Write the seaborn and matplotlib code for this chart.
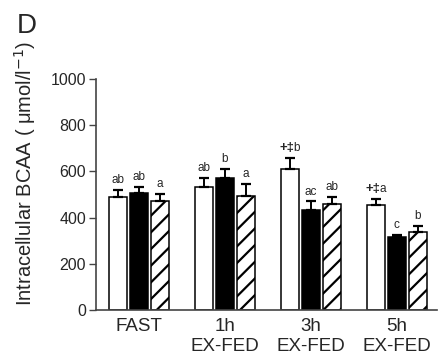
import matplotlib
matplotlib.use("Agg")
import matplotlib.pyplot as plt
import seaborn as sns
import numpy as np
import pandas as pd

# Group means and upper SEM for intracellular BCAA
conditions = ["FAST", "1h\nEX-FED", "3h\nEX-FED", "5h\nEX-FED"]
groups = ["G1", "G2", "G3"]
means_g1 = [490, 532, 609, 453]
means_g2 = [505, 570, 434, 316]
means_g3 = [473, 495, 460, 336]
sem_g1 = [29, 41, 50, 29]
sem_g2 = [29, 40, 36, 10]
sem_g3 = [29, 52, 29, 29]
sig_prefix_g1 = ["", "", "+‡", "+‡"]
letters_g1 = ["ab", "ab", "b", "a"]
letters_g2 = ["ab", "b", "ac", "c"]
letters_g3 = ["a", "a", "ab", "b"]

sns.set_theme(style="white")
plt.rcParams["font.family"] = ["Liberation Sans", "DejaVu Sans"]
plt.rcParams["hatch.linewidth"] = 1.6
plt.rcParams["hatch.color"] = "black"

df = pd.DataFrame({
    "condition": conditions * 3,
    "group": [g for g in groups for _ in conditions],
    "value": means_g1 + means_g2 + means_g3,
})

fig = plt.figure(figsize=(4.38, 3.62), dpi=100)
ax = fig.add_axes([0.219, 0.1436, 0.779, 0.6382])

sns.barplot(data=df, x="condition", y="value", hue="group",
            hue_order=groups, order=conditions,
            palette=["white", "black", "white"],
            width=0.73, gap=0.14, edgecolor="black", linewidth=1.1,
            errorbar=None, legend=False, ax=ax)

means = [means_g1, means_g2, means_g3]
sems = [sem_g1, sem_g2, sem_g3]
letters = [letters_g1, letters_g2, letters_g3]

# bars come in hue order, each hue across all conditions
patches = ax.patches
n = len(conditions)
for gi in range(3):
    for ci in range(n):
        p = patches[gi * n + ci]
        xc = p.get_x() + p.get_width() / 2
        if gi == 2:
            p.set_hatch("//")
        m = means[gi][ci]
        e = sems[gi][ci]
        ax.errorbar(xc, m, yerr=[[0], [e]], fmt="none", ecolor="black",
                    elinewidth=1.4, capsize=3.3, capthick=1.6, zorder=3)
        ytop = m + e + 16
        pre = sig_prefix_g1[ci] if gi == 0 else ""
        if pre:
            ax.annotate(pre, (xc, ytop), xytext=(3.5, 0), textcoords="offset points",
                        ha="right", va="bottom", fontsize=9.5, fontweight="bold")
            ax.annotate(letters[gi][ci], (xc, ytop), xytext=(2.8, 0),
                        textcoords="offset points", ha="left", va="bottom",
                        fontsize=8.5)
        else:
            ax.text(xc, ytop, letters[gi][ci], ha="center", va="bottom",
                    fontsize=8.5)

ax.set_xlim(-0.5, 3.47)
ax.set_ylim(0, 1000)
ax.set_yticks([0, 200, 400, 600, 800, 1000])
ax.set_xlabel("")
ax.set_ylabel("Intracellular BCAA ( μmol/l$^{-1}$)", fontsize=14.5)
ax.yaxis.set_label_coords(-0.17, 0.593)
ax.tick_params(axis="y", which="major", direction="out", length=5, width=1,
               color="#444444", labelsize=11.5, pad=2, left=True)
ax.tick_params(axis="x", length=0, labelsize=13.5, pad=6)
sns.despine(ax=ax)
for s in ("left", "bottom"):
    ax.spines[s].set_color("#444444")
    ax.spines[s].set_linewidth(1.2)

fig.text(0.038, 0.909, "D", fontsize=20, ha="left", va="baseline")

fig.savefig("out.png", dpi=100)
